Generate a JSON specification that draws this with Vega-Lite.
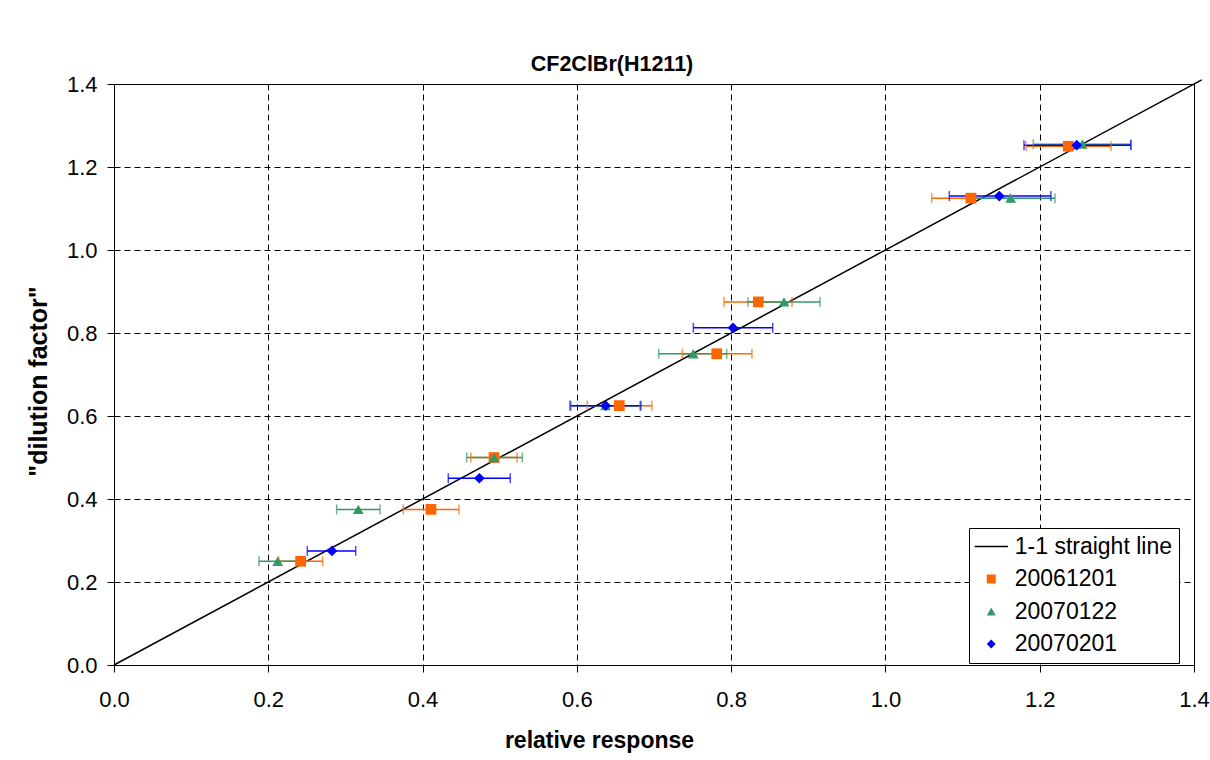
{
  "$schema": "https://vega.github.io/schema/vega-lite/v6.json",
  "width": 1080,
  "height": 581,
  "autosize": {"type": "none"},
  "padding": {"left": 114, "top": 84, "right": 16, "bottom": 95},
  "background": "white",
  "config": {
    "font": "Liberation Sans",
    "view": {"stroke": "black", "strokeWidth": 1}
  },
  "title": {
    "text": "CF2ClBr(H1211)",
    "fontSize": 21.5,
    "fontWeight": "bold",
    "font": "Liberation Sans",
    "color": "black",
    "anchor": "middle",
    "offset": -2,
    "dx": -42
  },
  "datasets": {
    "pts": [
      {"series": "20061201", "x": 0.2420, "y": 0.25, "xlo": 0.2135, "xhi": 0.2705},
      {"series": "20061201", "x": 0.4109, "y": 0.375, "xlo": 0.3750, "xhi": 0.4472},
      {"series": "20061201", "x": 0.4926, "y": 0.5, "xlo": 0.4626, "xhi": 0.5226},
      {"series": "20061201", "x": 0.6550, "y": 0.625, "xlo": 0.6135, "xhi": 0.6974},
      {"series": "20061201", "x": 0.7813, "y": 0.75, "xlo": 0.7367, "xhi": 0.8270},
      {"series": "20061201", "x": 0.8352, "y": 0.875, "xlo": 0.7907, "xhi": 0.8789},
      {"series": "20061201", "x": 1.1109, "y": 1.125, "xlo": 1.0600, "xhi": 1.1618},
      {"series": "20061201", "x": 1.2370, "y": 1.25, "xlo": 1.1822, "xhi": 1.2924},
      {"series": "20070122", "x": 0.2122, "y": 0.25, "xlo": 0.1880, "xhi": 0.2364},
      {"series": "20070122", "x": 0.3167, "y": 0.375, "xlo": 0.2886, "xhi": 0.3448},
      {"series": "20070122", "x": 0.4926, "y": 0.5, "xlo": 0.4572, "xhi": 0.5293},
      {"series": "20070122", "x": 0.6371, "y": 0.625, "xlo": 0.5924, "xhi": 0.6818},
      {"series": "20070122", "x": 0.7509, "y": 0.75, "xlo": 0.7061, "xhi": 0.7942},
      {"series": "20070122", "x": 0.8685, "y": 0.875, "xlo": 0.8218, "xhi": 0.9152},
      {"series": "20070122", "x": 1.1624, "y": 1.125, "xlo": 1.1050, "xhi": 1.2198},
      {"series": "20070122", "x": 1.2552, "y": 1.255, "xlo": 1.1917, "xhi": 1.3184},
      {"series": "20070201", "x": 0.2826, "y": 0.275, "xlo": 0.2506, "xhi": 0.3133},
      {"series": "20070201", "x": 0.4736, "y": 0.45, "xlo": 0.4333, "xhi": 0.5137},
      {"series": "20070201", "x": 0.6374, "y": 0.625, "xlo": 0.5911, "xhi": 0.6831},
      {"series": "20070201", "x": 0.8024, "y": 0.8125, "xlo": 0.7510, "xhi": 0.8539},
      {"series": "20070201", "x": 1.1476, "y": 1.13, "xlo": 1.0828, "xhi": 1.2146},
      {"series": "20070201", "x": 1.2480, "y": 1.2525, "xlo": 1.1796, "xhi": 1.3180}
    ],
    "oneone": [
      {"x": 0, "y": 0},
      {"x": 1.41, "y": 1.41}
    ]
  },
  "resolve": {
    "scale": {"color": "independent", "shape": "independent"},
    "legend": {"color": "independent", "shape": "independent"}
  },
  "layer": [
    {
      "data": {"name": "oneone"},
      "mark": {"type": "line", "color": "black", "strokeWidth": 1.5, "clip": false},
      "encoding": {
        "x": {
          "field": "x", "type": "quantitative",
          "scale": {"domain": [0, 1.4], "nice": false, "zero": false},
          "axis": {
            "title": "relative response",
            "titleFontSize": 23, "titleFontWeight": "bold", "titleColor": "black",
            "titlePadding": 19,
            "titleX": 485,
            "values": [0, 0.2, 0.4, 0.6, 0.8, 1.0, 1.2, 1.4],
            "format": ".1f",
            "labelFontSize": 22, "labelColor": "black", "labelPadding": 17,
            "labelFlush": false,
            "tickSize": 7, "tickColor": "black", "domainColor": "black",
            "grid": true, "gridColor": "black", "gridDash": [6, 4], "gridWidth": 1
          }
        },
        "y": {
          "field": "y", "type": "quantitative",
          "scale": {"domain": [0, 1.4], "nice": false, "zero": false},
          "axis": {
            "title": "\"dilution factor\"",
            "titleFontSize": 25, "titleFontWeight": "bold", "titleColor": "black",
            "titlePadding": 15,
            "titleY": 297,
            "values": [0, 0.2, 0.4, 0.6, 0.8, 1.0, 1.2, 1.4],
            "format": ".1f",
            "labelFontSize": 22, "labelColor": "black", "labelPadding": 10,
            "labelFlush": false,
            "tickSize": 7, "tickColor": "black", "domainColor": "black",
            "grid": true, "gridColor": "black", "gridDash": [6, 4], "gridWidth": 1
          }
        }
      }
    },
    {
      "data": {"name": "pts"},
      "mark": {"type": "rule", "strokeWidth": 1.5},
      "encoding": {
        "x": {"field": "xlo", "type": "quantitative"},
        "x2": {"field": "xhi"},
        "y": {"field": "y", "type": "quantitative"},
        "color": {
          "field": "series", "type": "nominal", "legend": null,
          "scale": {"domain": ["20061201", "20070122", "20070201"], "range": ["#FF6600", "#339966", "#0000FF"]}
        }
      }
    },
    {
      "data": {"name": "pts"},
      "mark": {"type": "tick", "orient": "vertical", "size": 10, "thickness": 1.5},
      "encoding": {
        "x": {"field": "xlo", "type": "quantitative"},
        "y": {"field": "y", "type": "quantitative"},
        "color": {
          "field": "series", "type": "nominal", "legend": null,
          "scale": {"domain": ["20061201", "20070122", "20070201"], "range": ["#FF6600", "#339966", "#0000FF"]}
        }
      }
    },
    {
      "data": {"name": "pts"},
      "mark": {"type": "tick", "orient": "vertical", "size": 10, "thickness": 1.5},
      "encoding": {
        "x": {"field": "xhi", "type": "quantitative"},
        "y": {"field": "y", "type": "quantitative"},
        "color": {
          "field": "series", "type": "nominal", "legend": null,
          "scale": {"domain": ["20061201", "20070122", "20070201"], "range": ["#FF6600", "#339966", "#0000FF"]}
        }
      }
    },
    {
      "data": {"name": "pts"},
      "mark": {"type": "point", "filled": true, "opacity": 1, "size": 115},
      "encoding": {
        "x": {"field": "x", "type": "quantitative"},
        "y": {"field": "y", "type": "quantitative"},
        "color": {
          "field": "series", "type": "nominal",
          "scale": {
            "domain": ["1-1 straight line", "20061201", "20070122", "20070201"],
            "range": ["black", "#FF6600", "#339966", "#0000FF"]
          },
          "legend": {
            "title": null,
            "orient": "none",
            "legendX": 855,
            "legendY": 444,
            "padding": 7,
            "strokeColor": "black",
            "fillColor": "white",
            "labelFontSize": 23,
            "labelColor": "black",
            "labelFont": "Liberation Sans",
            "labelOffset": 12,
            "symbolOffset": 3.75,
            "rowPadding": 8.5,
            "symbolSize": 81,
            "symbolStrokeWidth": 0
          }
        },
        "shape": {
          "field": "series", "type": "nominal",
          "scale": {
            "domain": ["1-1 straight line", "20061201", "20070122", "20070201"],
            "range": ["M-3.7,-0.17H3.7V0.17H-3.7Z", "square", "triangle-up", "diamond"]
          }
        }
      }
    }
  ]
}
